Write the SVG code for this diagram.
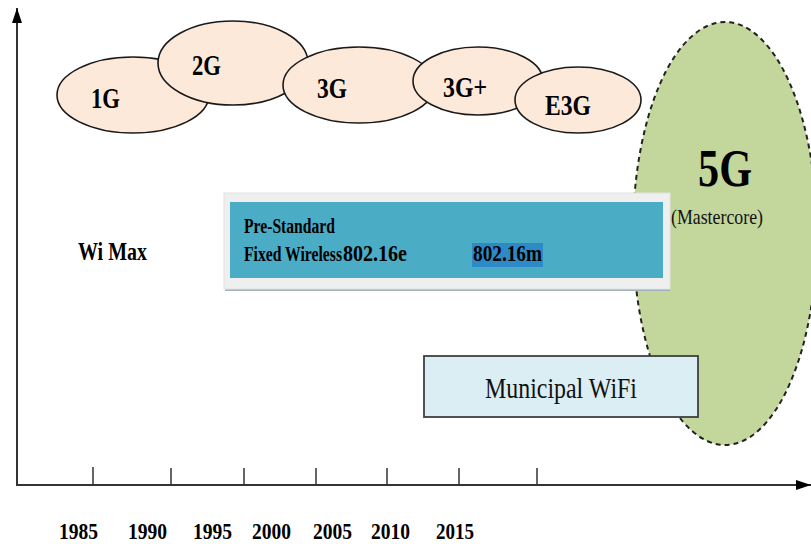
<svg xmlns="http://www.w3.org/2000/svg" width="811" height="544" viewBox="0 0 811 544">
<defs>
<style>
.gen{fill:#fde9d9;stroke:#1a1a1a;stroke-width:1.6}
.lbl{font-family:"Liberation Serif","Times New Roman",serif;font-weight:bold;fill:#000}
.reg{font-family:"Liberation Serif","Times New Roman",serif;fill:#111}
.axis{stroke:#333;stroke-width:2;fill:none}
.tick{stroke:#333;stroke-width:1.5}
</style>
<marker id="arr" viewBox="0 0 15 10" refX="15" refY="5" markerWidth="15" markerHeight="10" markerUnits="userSpaceOnUse" orient="auto">
<path d="M0,0 L15,5 L0,10 Z" fill="#000"/>
</marker>
</defs>
<rect width="811" height="544" fill="#fff"/>

<g id="axes">
<line class="axis" x1="17" y1="485" x2="17" y2="8" marker-end="url(#arr)"/>
<line class="axis" x1="16" y1="485" x2="811" y2="485" marker-end="url(#arr)"/>
<line class="tick" x1="93" y1="467" x2="93" y2="485"/>
<line class="tick" x1="171" y1="468" x2="171" y2="485"/>
<line class="tick" x1="244" y1="468" x2="244" y2="485"/>
<line class="tick" x1="316" y1="468" x2="316" y2="485"/>
<line class="tick" x1="387" y1="468" x2="387" y2="485"/>
<line class="tick" x1="459" y1="468" x2="459" y2="485"/>
<line class="tick" x1="537" y1="468" x2="537" y2="485"/>
</g>

<g id="years" class="lbl" font-size="24">
<text x="59" y="539" textLength="39" lengthAdjust="spacingAndGlyphs">1985</text>
<text x="128" y="539" textLength="39" lengthAdjust="spacingAndGlyphs">1990</text>
<text x="193" y="539" textLength="39" lengthAdjust="spacingAndGlyphs">1995</text>
<text x="252" y="539" textLength="39" lengthAdjust="spacingAndGlyphs">2000</text>
<text x="313" y="539" textLength="39" lengthAdjust="spacingAndGlyphs">2005</text>
<text x="371" y="539" textLength="39" lengthAdjust="spacingAndGlyphs">2010</text>
<text x="436" y="539" textLength="38" lengthAdjust="spacingAndGlyphs">2015</text>
</g>

<g id="node-5g">
<ellipse cx="725" cy="233.5" rx="92" ry="211.5" fill="#c3d69b" stroke="#222" stroke-width="2" stroke-dasharray="5,4"/>
<text class="lbl" x="698" y="186" font-size="52" textLength="54" lengthAdjust="spacingAndGlyphs">5G</text>
<text class="reg" x="671" y="224" font-size="21" textLength="92" lengthAdjust="spacingAndGlyphs">(Mastercore)</text>
</g>

<g id="node-1g">
<ellipse class="gen" cx="133" cy="95" rx="76" ry="38"/>
<text class="lbl" x="91" y="108" font-size="30" textLength="29" lengthAdjust="spacingAndGlyphs">1G</text>
</g>
<g id="node-2g">
<ellipse class="gen" cx="233" cy="63" rx="75" ry="42"/>
<text class="lbl" x="192" y="75" font-size="30" textLength="29" lengthAdjust="spacingAndGlyphs">2G</text>
</g>
<g id="node-3g">
<ellipse class="gen" cx="359" cy="85" rx="76" ry="38"/>
<text class="lbl" x="317" y="98" font-size="30" textLength="30" lengthAdjust="spacingAndGlyphs">3G</text>
</g>
<g id="node-3gplus">
<ellipse class="gen" cx="478" cy="81" rx="65" ry="34"/>
<text class="lbl" x="443" y="97" font-size="30" textLength="44" lengthAdjust="spacingAndGlyphs">3G+</text>
</g>
<g id="node-e3g">
<ellipse class="gen" cx="578" cy="100" rx="63" ry="33"/>
<text class="lbl" x="545" y="115" font-size="30" textLength="46" lengthAdjust="spacingAndGlyphs">E3G</text>
</g>

<g id="node-wimax">
<text class="lbl" x="78" y="260" font-size="25" textLength="69" lengthAdjust="spacingAndGlyphs">Wi Max</text>
</g>

<g id="node-fixed-wireless">
<rect x="225" y="288" width="445" height="3" fill="#9fb2bc"/>
<rect x="224" y="193" width="446" height="96" fill="#efefef" stroke="#e2e2e2" stroke-width="1"/>
<rect x="230" y="202" width="433" height="76" fill="#4bacc6"/>
<rect x="472" y="243" width="71" height="24" fill="#2e8ac6"/>
<text class="lbl" x="244" y="233" font-size="20" textLength="91" lengthAdjust="spacingAndGlyphs">Pre-Standard</text>
<text class="lbl" x="244" y="261"><tspan font-size="20" textLength="98" lengthAdjust="spacingAndGlyphs">Fixed Wireless</tspan><tspan x="343" font-size="24" textLength="64" lengthAdjust="spacingAndGlyphs">802.16e</tspan></text>
<text class="lbl" x="473" y="261" font-size="24" textLength="69" lengthAdjust="spacingAndGlyphs">802.16m</text>
</g>

<g id="node-municipal-wifi">
<rect x="424" y="356" width="274" height="61" fill="#dbeef4" stroke="#404040" stroke-width="1.8"/>
<text class="reg" x="485" y="398" font-size="29" textLength="152" lengthAdjust="spacingAndGlyphs">Municipal WiFi</text>
</g>
</svg>
